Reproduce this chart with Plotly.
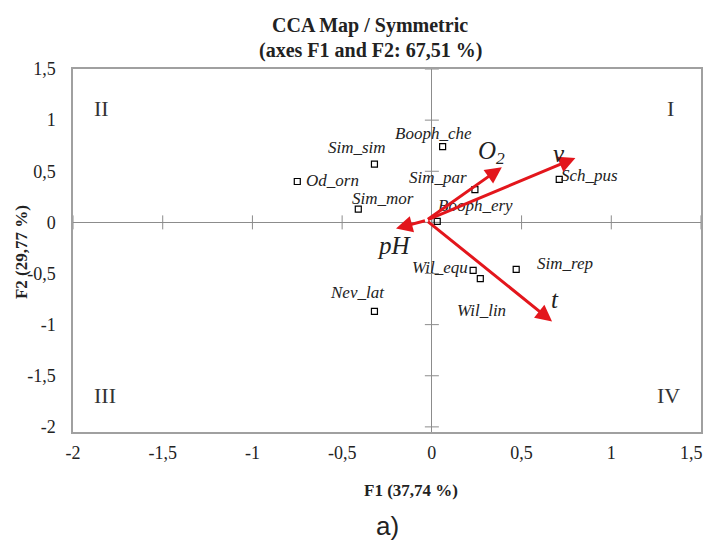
import plotly.graph_objects as go

# Species (sites) scores
species = ["Sim_sim", "Od_orn", "Sim_mor", "Booph_che", "Booph_ery", "Sim_par",
           "Sch_pus", "Wil_equ", "Wil_lin", "Sim_rep", "Nev_lat"]
sp_f1 = [-0.32, -0.75, -0.41, 0.06, 0.03, 0.24, 0.71, 0.23, 0.27, 0.47, -0.32]
sp_f2 = [0.57, 0.40, 0.13, 0.74, 0.01, 0.32, 0.42, -0.47, -0.55, -0.46, -0.87]

# Environmental variables (arrows)
env = ["O<sub>2</sub>", "v", "pH", "t"]
env_f1 = [0.39, 0.80, -0.20, 0.67]
env_f2 = [0.54, 0.63, -0.06, -0.97]
origin = (-0.03, 0.02)

tick_vals = [-2, -1.5, -1, -0.5, 0, 0.5, 1, 1.5]
tick_text = ["-2", "-1,5", "-1", "-0,5", "0", "0,5", "1", "1,5"]

quadrants = ["II", "I", "III", "IV"]

# label offsets (style, px)
sp_shift = [(-17, 17), (35, 1), (25, 11), (-9, 13), (38, 16), (-37, 12),
            (30, 4), (-33, 3), (1, -32), (49, 6), (-17, 19)]
env_shift = [(-10, 15), (-16, 4), (-1, -17), (3, 22)]
quad_pos = [(-1.84, 1.11), (1.33, 1.11), (-1.82, -1.69), (1.32, -1.69)]

SERIF = "Liberation Serif"
RED = "#e3161c"
GRAY = "#8c8c8c"
TICKFONT = dict(family=SERIF, size=18, color="#222")

fig = go.Figure()

# small tick marks on the zero axes
fig.add_trace(go.Scatter(x=[0] * len(tick_vals), y=tick_vals, mode="markers",
                         marker=dict(symbol="line-ew-open", size=10, color=GRAY,
                                     line=dict(color=GRAY, width=1)),
                         hoverinfo="skip", showlegend=False))
fig.add_trace(go.Scatter(x=tick_vals, y=[0] * len(tick_vals), mode="markers",
                         marker=dict(symbol="line-ns-open", size=10, color=GRAY,
                                     line=dict(color=GRAY, width=1)),
                         hoverinfo="skip", showlegend=False))

# species points
fig.add_trace(go.Scatter(x=sp_f1, y=sp_f2, mode="markers",
                         marker=dict(symbol="square-open", size=6,
                                     color="black", line=dict(width=1.2)),
                         text=species, showlegend=False))

annotations = []
for name, x, y, (dx, dy) in zip(species, sp_f1, sp_f2, sp_shift):
    annotations.append(dict(x=x, y=y, xref="x", yref="y", text=f"<i>{name}</i>",
                            showarrow=False, xshift=dx, yshift=dy,
                            font=dict(family=SERIF, size=17, color="#222")))

for name, x, y, (dx, dy) in zip(env, env_f1, env_f2, env_shift):
    annotations.append(dict(x=x, y=y, xref="x", yref="y", ax=origin[0], ay=origin[1],
                            axref="x", ayref="y", text="", showarrow=True,
                            arrowhead=2, arrowsize=1.1, arrowwidth=3,
                            arrowcolor=RED, standoff=0))
    annotations.append(dict(x=x, y=y, xref="x", yref="y", text=f"<i>{name}</i>",
                            showarrow=False, xshift=dx, yshift=dy,
                            font=dict(family=SERIF, size=25, color="#222")))

for txt, (qx, qy) in zip(quadrants, quad_pos):
    annotations.append(dict(x=qx, y=qy, xref="x", yref="y", text=txt,
                            showarrow=False,
                            font=dict(family=SERIF, size=22, color="#333")))

# last x tick label, right-aligned at the edge so it stays inside the page
annotations.append(dict(x=tick_vals[-1], y=-0.058, xref="x", yref="paper",
                        text=tick_text[-1], showarrow=False, xanchor="right",
                        yanchor="middle", xshift=4, font=TICKFONT))

# titles
annotations += [
    dict(x=0.473, y=1.121, xref="paper", yref="paper", showarrow=False,
         text="<b>CCA Map / Symmetric</b>", xanchor="center", yanchor="middle",
         font=dict(family=SERIF, size=20, color="#222")),
    dict(x=0.473, y=1.050, xref="paper", yref="paper", showarrow=False,
         text="<b>(axes F1 and F2: 67,51 %)</b>", xanchor="center", yanchor="middle",
         font=dict(family=SERIF, size=20, color="#222")),
    dict(x=0.538, y=-0.160, xref="paper", yref="paper", showarrow=False,
         text="<b>F1 (37,74 %)</b>", xanchor="center", yanchor="middle",
         font=dict(family=SERIF, size=17, color="#222")),
    dict(x=-0.081, y=0.496, xref="paper", yref="paper", showarrow=False,
         text="<b>F2 (29,77 %)</b>", textangle=-90, xanchor="center", yanchor="middle",
         font=dict(family=SERIF, size=17, color="#222")),
    dict(x=0.5, y=-0.259, xref="paper", yref="paper", showarrow=False,
         text="a)", xanchor="center", yanchor="middle",
         font=dict(family="Liberation Sans", size=26, color="#222")),
]

axis_common = dict(range=[-2, 1.5], tickvals=tick_vals, automargin=False,
                   showgrid=False, zeroline=True, zerolinecolor=GRAY, zerolinewidth=1,
                   showline=True, linecolor="#a0a0a0", linewidth=1.5, mirror=True,
                   ticks="", tickfont=TICKFONT)

fig.update_layout(
    width=706, height=544,
    margin=dict(l=73, r=5, t=69, b=112),
    paper_bgcolor="white", plot_bgcolor="white",
    font=dict(family=SERIF),
    annotations=annotations,
    xaxis=dict(axis_common, tickvals=tick_vals[:-1], ticktext=tick_text[:-1],
               ticklabelstandoff=4),
    yaxis=dict(axis_common, range=[-2.05, 1.5], ticktext=tick_text,
               ticklabelstandoff=12),
)

fig.write_html("out.html")
